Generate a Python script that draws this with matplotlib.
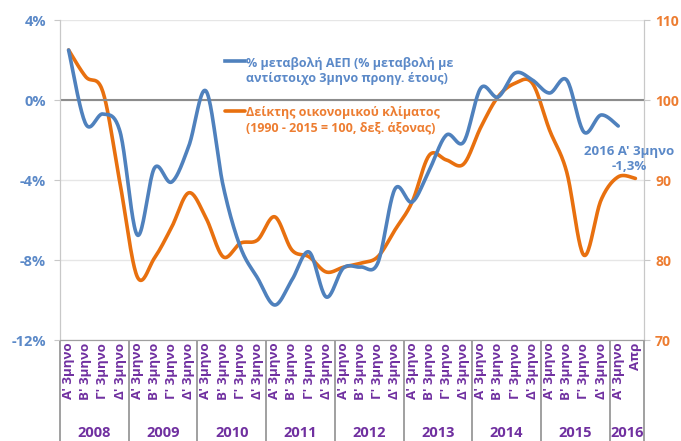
import numpy as np
import matplotlib
matplotlib.use("Agg")
import matplotlib.pyplot as plt

plt.rcParams["font.family"] = ["Open Sans", "DejaVu Sans"]

# quarters 2008 Q1 .. 2016 Q1, plus April 2016 for the climate index
quarters = ["Α' 3μηνο", "Β' 3μηνο", "Γ' 3μηνο", "Δ' 3μηνο"]
years = ["2008", "2009", "2010", "2011", "2012", "2013", "2014", "2015", "2016"]
cat_labels = quarters * 8 + ["Α' 3μηνο", "Απρ"]

gdp = [2.5, -1.2, -0.7, -1.6, -6.75, -3.4, -4.1, -2.3, 0.45, -4.3, -7.35, -8.9,
       -10.25, -9.0, -7.6, -9.85, -8.4, -8.35, -8.15, -4.45, -5.1, -3.5, -1.75, -2.1,
       0.6, 0.15, 1.35, 1.0, 0.35, 1.0, -1.6, -0.75, -1.3]

climate = [106.25, 102.9, 101.0, 89.5, 77.9, 80.25, 84.1, 88.4, 85.25, 80.4, 82.1, 82.5,
           85.4, 81.25, 80.4, 78.5, 79.1, 79.6, 80.4, 83.75, 87.25, 93.1, 92.5, 92.0,
           96.6, 100.4, 102.1, 102.1, 96.25, 91.0, 80.6, 87.5, 90.4, 90.2]

BLUE = "#4F81BD"
ORANGE = "#E8700F"
BLUE_TXT = "#5B89C8"
ORANGE_TXT = "#ED7D31"
PURPLE = "#7030A0"


def smooth(x, y, n=24):
    # Excel-style smoothed line (Catmull-Rom as cubic Bezier)
    x = np.asarray(x, float)
    y = np.asarray(y, float)
    p = np.column_stack([x, y])
    out = []
    t = np.linspace(0, 1, n)[:, None]
    for i in range(len(p) - 1):
        p0 = p[i - 1] if i > 0 else p[i]
        p1, p2 = p[i], p[i + 1]
        p3 = p[i + 2] if i + 2 < len(p) else p[i + 1]
        c1 = p1 + (p2 - p0) / 6
        c2 = p2 - (p3 - p1) / 6
        seg = ((1 - t) ** 3) * p1 + 3 * ((1 - t) ** 2) * t * c1 + 3 * (1 - t) * t ** 2 * c2 + t ** 3 * p2
        out.append(seg if i == 0 else seg[1:])
    out = np.vstack(out)
    return out[:, 0], out[:, 1]


fig = plt.figure(figsize=(6.81, 4.41), dpi=100)
ax = fig.add_axes([60 / 681, 1 - 340 / 441, 584 / 681, 320 / 441])
ax2 = ax.twinx()

x_gdp = np.arange(len(gdp)) + 0.5
x_cl = np.arange(len(climate)) + 0.5

sx, sy = smooth(x_cl, climate)
ax2.plot(sx, sy, color=ORANGE, lw=2.6, solid_capstyle="round", zorder=3,
         label="Δείκτης οικονομικού κλίματος\n(1990 - 2015 = 100, δεξ. άξονας)")
sx, sy = smooth(x_gdp, gdp)
ax2.plot([], [], color=BLUE, lw=2.6,
         label="% μεταβολή ΑΕΠ (% μεταβολή με\nαντίστοιχο 3μηνο προηγ. έτους)")
ax.plot(sx, sy, color=BLUE, lw=2.6, solid_capstyle="round")
# put the gdp line above the orange one
ax.set_zorder(ax2.get_zorder() + 1)
ax.patch.set_visible(False)

ax.set_xlim(0, len(cat_labels))
ax.set_ylim(-12, 4)
ax2.set_ylim(70, 110)
ax.set_yticks([-12, -8, -4, 0, 4])
ax.set_yticklabels(["-12%", "-8%", "-4%", "0%", "4%"])
ax2.set_yticks([70, 80, 90, 100, 110])

ax2.grid(axis="y", color="#e6e6e6", lw=1)
ax2.set_axisbelow(True)
ax.axhline(0, color="#8c8c8c", lw=1.5, zorder=1)

for a in (ax, ax2):
    for s in a.spines.values():
        s.set_color("#c8c8c8")
    a.spines["top"].set_visible(False)
    a.spines["bottom"].set_color("#a0a0a0")

ax.tick_params(axis="y", colors="#c8c8c8", length=4, labelcolor=BLUE_TXT, labelsize=10.5, pad=6)
ax2.tick_params(axis="y", colors="#c8c8c8", length=4, labelcolor=ORANGE_TXT, labelsize=10, pad=4)
for lab in ax.get_yticklabels():
    lab.set_fontweight("bold")
for lab in ax2.get_yticklabels():
    lab.set_fontweight("bold")

ax.set_xticks(np.arange(len(cat_labels)) + 0.5)
ax.set_xticklabels(cat_labels, rotation=90, color=PURPLE, fontsize=9.6, fontweight="bold")
ax.tick_params(axis="x", length=0, pad=2)
bounds = list(range(0, 33, 4)) + [len(cat_labels)]
ax.set_xticks(bounds, minor=True)
ax.tick_params(axis="x", which="minor", length=75, width=1.2, color="#909090")

year_pos = [b + 2 for b in range(0, 32, 4)] + [33]
for xp, yr in zip(year_pos, years):
    ax.text(xp, -0.29, yr, transform=ax.get_xaxis_transform(), ha="center", va="center",
            color=PURPLE, fontsize=10.5, fontweight="bold")

ax.annotate("2016 Α' 3μηνο\n-1,3%", xy=(x_gdp[-1], gdp[-1]), xytext=(8, -24),
            textcoords="offset points", ha="center", va="center", color=BLUE_TXT,
            fontsize=9.5, fontweight="bold", linespacing=1.2)

h, l = ax2.get_legend_handles_labels()
leg = ax.legend(h[::-1], l[::-1], loc="upper left", bbox_to_anchor=(0.274, 0.90),
                frameon=False, fontsize=9, handlelength=1.6, handletextpad=0.1,
                labelspacing=1.7, borderaxespad=0)
for txt, c in zip(leg.get_texts(), [BLUE_TXT, ORANGE_TXT]):
    txt.set_color(c)
    txt.set_fontweight("bold")
# line handle next to the first text line
for row in leg._legend_handle_box.get_children():
    for hp in row.get_children():
        hp.align = "top"

fig.savefig("out.png", dpi=100)
